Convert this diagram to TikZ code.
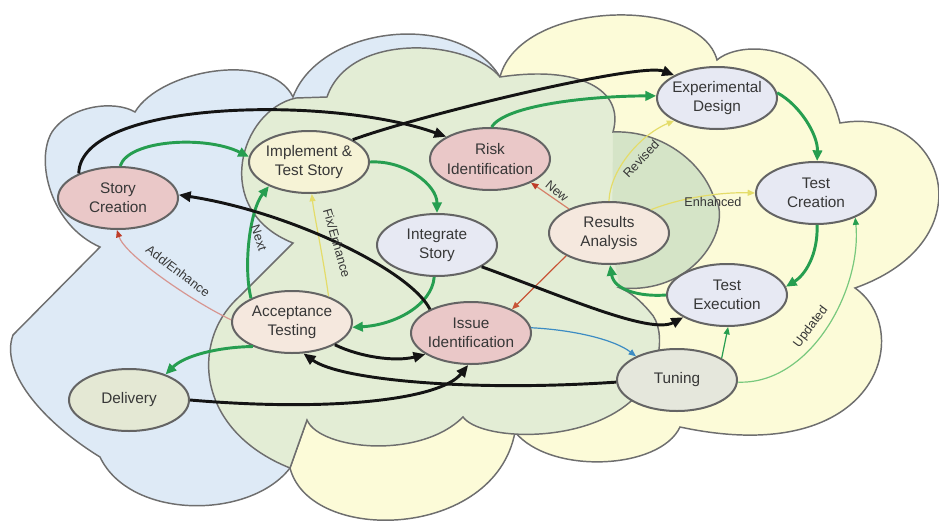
\documentclass[tikz,border=0pt]{standalone}
\usepackage{fontspec}
\setmainfont{Liberation Sans}
\usetikzlibrary{arrows.meta,shapes.geometric}

\definecolor{cloudblue}{RGB}{222,234,246}
\definecolor{cloudgreen}{RGB}{227,237,213}
\definecolor{cloudyellow}{RGB}{252,251,216}
\definecolor{lobegreen}{RGB}{213,228,199}
\definecolor{cloudedge}{RGB}{110,110,110}
\definecolor{nodeedge}{RGB}{100,100,100}
\definecolor{fillpink}{RGB}{234,200,200}
\definecolor{fillcream}{RGB}{246,243,214}
\definecolor{filllav}{RGB}{231,233,243}
\definecolor{fillpeach}{RGB}{245,232,222}
\definecolor{fillsage}{RGB}{228,232,212}
\definecolor{fillgrey}{RGB}{229,231,220}
\definecolor{textgrey}{RGB}{55,55,55}
\definecolor{flowgreen}{RGB}{38,158,80}
\definecolor{lightgreen}{RGB}{120,200,125}
\definecolor{flowblue}{RGB}{60,140,195}
\definecolor{flowred}{RGB}{200,85,55}
\definecolor{flowrose}{RGB}{215,150,145}
\definecolor{tipred}{RGB}{190,60,40}
\definecolor{flowyellow}{RGB}{228,220,105}

% outline of the middle (green) cloud, used for its fill and its border
\newcommand\greencloudpath{(296,98) .. controls (240,110) and (210,210) .. (293,243)
  -- (240,296) .. controls (190,340) and (195,430) .. (290,468)
  -- (307,420) .. controls (320,450) and (420,460) .. (463,417)
  .. controls (480,440) and (580,445) .. (630,402)
  .. controls (660,380) and (668,330) .. (650,312)
  .. controls (640,300) and (630,292) .. (620,288)
  .. controls (700,295) and (735,220) .. (713,195)
  .. controls (700,160) and (660,130) .. (613,132)
  .. controls (625,90) and (580,65) .. (500,77)
  .. controls (470,40) and (350,30) .. (327,97) -- cycle}

\tikzset{
  cloudborder/.style={draw=cloudedge, line width=1.1pt},
  stage/.style={ellipse, draw=nodeedge, line width=1.5pt, minimum width=90pt,
    minimum height=46.5pt, inner sep=0pt},
  stagetext/.style={font=\fontsize{11.5}{14.5}\selectfont, text=textgrey,
    align=center, inner sep=0pt},
  blackflow/.style={draw=black!92, line width=2.2pt,
    -{Triangle[length=9pt,width=7.5pt]}},
  greenflow/.style={draw=flowgreen, line width=2.2pt,
    -{Triangle[length=8pt,width=7pt]}},
  thinflow/.style={line width=0.9pt, -{Triangle[length=5.5pt,width=4.5pt]}},
  lbl/.style={font=\fontsize{9.5}{11}\selectfont, text=textgrey, inner sep=0pt}
}

\begin{document}
\begin{tikzpicture}[x=0.75pt,y=-0.75pt]
\useasboundingbox (0,0) rectangle (939,521);
\fill[white] (0,0) rectangle (939,521);

% right (yellow) cloud
\path[fill=cloudyellow, cloudborder] (500,77) .. controls (520,0) and (700,-5) .. (717,60)
  .. controls (740,40) and (820,40) .. (840,123)
  .. controls (945,105) and (990,240) .. (855,288)
  .. controls (915,330) and (880,470) .. (680,427)
  .. controls (660,470) and (550,475) .. (515,432)
  .. controls (495,540) and (310,545) .. (290,468)
  -- (300,300) -- (320,120) -- cycle;

% left (blue) cloud
\path[fill=cloudblue, cloudborder] (100,247) .. controls (50,225) and (35,160) .. (52,132)
  .. controls (70,105) and (115,100) .. (135,112)
  .. controls (160,70) and (270,50) .. (293,97)
  .. controls (320,25) and (460,10) .. (500,77)
  .. controls (420,120) and (330,150) .. (320,300)
  .. controls (315,380) and (310,400) .. (307,420) -- (290,468)
  .. controls (250,520) and (130,520) .. (100,457)
  .. controls (40,420) and (0,370) .. (13,335) -- cycle;

% middle (green) cloud with its darker lobe
\path[fill=cloudgreen] \greencloudpath;
\path[fill=lobegreen] (613,132) .. controls (660,130) and (700,160) .. (713,195)
  .. controls (735,220) and (700,295) .. (620,288) -- (612,250) -- cycle;
\path[cloudborder] \greencloudpath;

% stages
\node[stage, fill=fillpink]  (story)  at (118,198) {};
\node[stage, fill=fillcream] (impl)   at (309,162) {};
\node[stage, fill=fillpink]  (risk)   at (490,159) {};
\node[stage, fill=filllav]   (integ)  at (437,245) {};
\node[stage, fill=fillpeach] (ra)     at (609,233) {};
\node[stage, fill=filllav]   (ed)     at (717,98)  {};
\node[stage, fill=filllav]   (tc)     at (816,193) {};
\node[stage, fill=filllav]   (te)     at (727,295) {};
\node[stage, fill=fillgrey]  (tuning) at (677,380) {};
\node[stage, fill=fillpink]  (issue)  at (471,333) {};
\node[stage, fill=fillpeach] (at)     at (292,322) {};
\node[stage, fill=fillsage]  (deliv)  at (129,400) {};

\node[stagetext] (story-t)  at (story)  {Story\\Creation};
\node[stagetext] (impl-t)   at (impl)   {Implement \&\\Test Story};
\node[stagetext] (risk-t)   at (risk)   {Risk\\Identification};
\node[stagetext] (integ-t)  at (integ)  {Integrate\\Story};
\node[stagetext] (ra-t)     at (ra)     {Results\\Analysis};
\node[stagetext] (ed-t)     at (ed)     {Experimental\\Design};
\node[stagetext] (tc-t)     at (tc)     {Test\\Creation};
\node[stagetext] (te-t)     at (te)     {Test\\Execution};
\node[stagetext] (tuning-t) at (tuning) {Tuning};
\node[stagetext] (issue-t)  at (issue)  {Issue\\Identification};
\node[stagetext] (at-t)     at (at)     {Acceptance\\Testing};
\node[stagetext] (deliv-t)  at (deliv)  {Delivery};

% thin feedback connectors
\draw[thinflow, draw=flowrose, -{Triangle[length=5.5pt,width=4.5pt,color=tipred]}]
  (at.178) .. controls (190,300) and (125,255) .. (story.-92);
\draw[thinflow, draw=flowyellow] (at.35) .. controls (322,250) and (314,215) .. (impl.-85);
\draw[thinflow, draw=flowred!75, -{Triangle[length=5.5pt,width=4.5pt,color=tipred]}]
  (ra.149) -- (risk.-30);
\draw[thinflow, draw=flowyellow] (ra.90) .. controls (610,170) and (640,135) .. (ed.208);
\draw[thinflow, draw=flowyellow] (ra.29) .. controls (680,198) and (720,192) .. (tc.180);
\draw[thinflow, draw=flowred] (ra.208) -- (issue.30);
\draw[thinflow, draw=flowblue] (issue.5) .. controls (575,330) and (615,340) .. (tuning.150);
\draw[thinflow, draw=flowgreen] (tuning.26) -- (te.-88);
\draw[thinflow, draw=lightgreen, -{Triangle[length=5.5pt,width=4.5pt,color=flowgreen]}]
  (tuning.-2) .. controls (810,385) and (862,290) .. (tc.-32);

% main green flow
\draw[greenflow] (story.86) .. controls (128,140) and (205,135) .. (impl.175);
\draw[greenflow] (risk.87) .. controls (505,105) and (590,96) .. (ed.178);
\draw[greenflow] (impl.0) .. controls (405,160) and (437,185) .. (integ.90);
\draw[greenflow] (ed.5) .. controls (800,105) and (818,135) .. (tc.88);
\draw[greenflow] (tc.-88) .. controls (818,255) and (805,275) .. (te.8);
\draw[greenflow] (te.180) .. controls (640,297) and (614,290) .. (ra.-88);
\draw[greenflow] (integ.-95) .. controls (432,305) and (395,325) .. (at.-5);
\draw[greenflow] (at.150) .. controls (243,265) and (250,210) .. (impl.211);
\draw[greenflow] (at.212) .. controls (220,347) and (185,355) .. (deliv.35);

% black hand-offs
\draw[blackflow] (story.148) .. controls (80,100) and (330,95) .. (risk.153);
\draw[blackflow] (impl.27) .. controls (420,115) and (640,62) .. (ed.152);
\draw[blackflow] (at.-28) .. controls (360,357) and (395,362) .. (issue.205);
\draw[blackflow] (tuning.182) .. controls (470,392) and (340,380) .. (at.-70);
\draw[blackflow] (deliv.0) .. controls (330,412) and (440,400) .. (issue.-95);
\draw[blackflow] (issue.150) .. controls (410,270) and (290,212) .. (story.3);
\draw[blackflow] (integ.-26) .. controls (560,295) and (650,335) .. (te.207);

% connector labels
\node[lbl, rotate=-72] (lbl-next) at (259,238) {Next};
\node[lbl, rotate=-74] (lbl-fix)  at (337,243) {Fix/Enhance};
\node[lbl, rotate=-37] (lbl-add)  at (178,271) {Add/Enhance};
\node[lbl, rotate=-40] (lbl-new)  at (557,191) {New};
\node[lbl, rotate=47]  (lbl-rev)  at (641,159) {Revised};
\node[lbl]             (lbl-enh)  at (713,202) {Enhanced};
\node[lbl, rotate=53]  (lbl-upd)  at (811,327) {Updated};
\end{tikzpicture}
\end{document}
